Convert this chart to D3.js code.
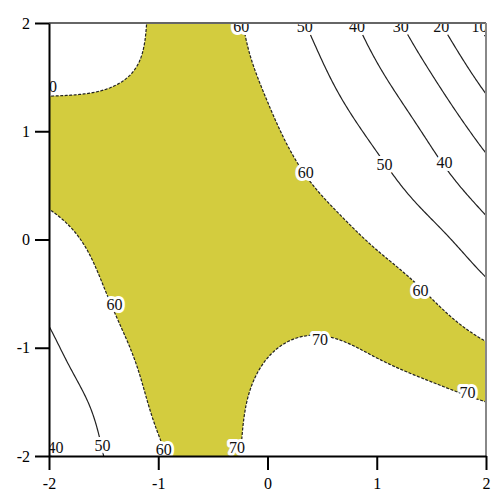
<!DOCTYPE html>
<html>
<head>
<meta charset="utf-8">
<script src="https://cdn.jsdelivr.net/npm/d3@7"></script>
<style>
  body { margin: 0; background: #fff; }
  svg { display: block; }
</style>
</head>
<body>
<svg width="494" height="495"></svg>
<script>
const xGrid = [-2, -1.5, -1, -0.5, 0, 0.5, 1, 1.5, 2];
const yGrid = [2, 1.5, 1, 0.5, 0, -0.5, -1, -1.5, -2];
const zRows = [
  [54.0, 56.5, 61.0, 63.0, 56.2, 47.0, 35.7, 22.5,  7.5],
  [58.5, 59.0, 61.5, 62.5, 59.0, 51.3, 41.7, 30.5, 17.0],
  [62.0, 63.0, 63.5, 63.0, 61.0, 55.5, 47.8, 38.0, 26.5],
  [61.5, 63.0, 63.5, 63.5, 62.5, 59.3, 53.5, 45.0, 35.0],
  [57.5, 61.5, 63.5, 64.5, 64.0, 62.8, 59.0, 53.0, 44.0],
  [52.8, 59.7, 64.0, 66.5, 67.0, 66.5, 64.0, 59.5, 52.5],
  [48.3, 56.5, 63.0, 66.5, 69.5, 71.0, 69.0, 65.5, 61.0],
  [44.5, 52.5, 61.5, 66.5, 72.0, 74.5, 74.0, 72.5, 70.0],
  [39.5, 50.0, 58.8, 66.3, 73.0, 76.0, 77.0, 77.5, 78.5]
];

const levels = [10, 20, 30, 40, 50, 60, 70];
const bandLow = 60, bandHigh = 70;   // the filled band

// contour labels as seen in the picture
const labelLevel = [60, 50, 40, 30, 20, 10, 60, 60, 50, 40, 60, 60, 70, 70, 40, 50, 60, 70];
const labelX = [-0.24, 0.34, 0.82, 1.22, 1.59, 1.94, -2.0, 0.35, 1.07, 1.62, -1.40, 1.40, 0.48, 1.83, -1.94, -1.51, -0.95, -0.28];
const labelY = [1.97, 1.97, 1.97, 1.97, 1.97, 1.97, 1.41, 0.62, 0.69, 0.71, -0.60, -0.47, -0.92, -1.41, -1.92, -1.90, -1.94, -1.92];

const tickValues = [-2, -1, 0, 1, 2];

const svg = d3.select("svg");
const plotLeft = 49, plotRight = 486, plotTop = 23, plotBottom = 456;

const x = d3.scaleLinear().domain([-2, 2]).range([plotLeft, plotRight]);
const y = d3.scaleLinear().domain([-2, 2]).range([plotBottom, plotTop]);

// natural cubic spline through equally spaced values, evaluated at fractional index t
function spline(vals) {
  const n = vals.length;
  const m2 = new Array(n).fill(0);          // second derivatives, zero at the ends
  const c = new Array(n).fill(0), d = new Array(n).fill(0);
  for (let i = 1; i < n - 1; i++) {
    const rhs = 6 * (vals[i + 1] - 2 * vals[i] + vals[i - 1]);
    const denom = 4 - c[i - 1];
    c[i] = 1 / denom;
    d[i] = (rhs - d[i - 1]) / denom;
  }
  for (let i = n - 2; i >= 1; i--) m2[i] = d[i] - c[i] * m2[i + 1];
  return t => {
    const i = Math.max(0, Math.min(n - 2, Math.floor(t)));
    const u = t - i, w = 1 - u;
    return w * vals[i] + u * vals[i + 1] + ((w * w * w - w) * m2[i] + (u * u * u - u) * m2[i + 1]) / 6;
  };
}

const N = 201;
const step = 4 / (N - 1);
const nx = xGrid.length, ny = yGrid.length;

// along x first, row by row, then along y for every fine column
const rowSplines = zRows.map(spline);
const fineRows = rowSplines.map(s => d3.range(N).map(i => s(i * (nx - 1) / (N - 1))));
const values = new Array(N * N);
for (let i = 0; i < N; i++) {
  const s = spline(fineRows.map(r => r[i]));
  for (let j = 0; j < N; j++) values[j * N + i] = s(j * (ny - 1) / (N - 1));
}

const projection = d3.geoTransform({
  point: function(px, py) {
    this.stream.point(x(-2 + (px - 0.5) * step), y(2 - (py - 0.5) * step));
  }
});
const path = d3.geoPath(projection);

const contours = d3.contours().size([N, N]).thresholds(levels)(values);
const byLevel = {};
contours.forEach(c => byLevel[c.value] = c);

svg.append("clipPath").attr("id", "plot")
  .append("rect")
    .attr("x", plotLeft).attr("y", plotTop)
    .attr("width", plotRight - plotLeft).attr("height", plotBottom - plotTop);

const g = svg.append("g").attr("clip-path", "url(#plot)");

// band 60-70 in yellow, everything above 70 back to white
g.append("path").attr("d", path(byLevel[bandLow])).attr("fill", "#d3cc3e");
g.append("path").attr("d", path(byLevel[bandHigh])).attr("fill", "#fff");

g.selectAll("path.line")
  .data(contours)
  .enter()
  .append("path")
    .attr("class", "line")
    .attr("d", path)
    .attr("fill", "none")
    .attr("stroke", "#222")
    .attr("stroke-width", 1.2)
    .attr("stroke-dasharray", d => d.value >= bandLow ? "3,1.5" : null);

// labels with a white knock-out round them
const labels = labelLevel.map((v, i) => ({ v, lx: labelX[i], ly: labelY[i] }));
g.selectAll("text.clab")
  .data(labels)
  .enter()
  .append("text")
    .attr("class", "clab")
    .attr("x", d => x(d.lx))
    .attr("y", d => y(d.ly))
    .attr("dy", "0.35em")
    .attr("text-anchor", "middle")
    .attr("font-family", "Liberation Serif, serif")
    .attr("font-size", "16px")
    .attr("fill", "#111")
    .attr("stroke", "#fff")
    .attr("stroke-width", 6)
    .attr("stroke-linejoin", "round")
    .attr("paint-order", "stroke")
    .text(d => d.v);

// frame on top and right
svg.append("line").attr("x1", plotLeft).attr("x2", plotRight).attr("y1", plotTop).attr("y2", plotTop)
  .attr("stroke", "#666").attr("stroke-width", 2);
svg.append("line").attr("x1", plotRight).attr("x2", plotRight).attr("y1", plotTop).attr("y2", plotBottom)
  .attr("stroke", "#888").attr("stroke-width", 2);

const fmt = d => d < 0 ? "-" + Math.abs(d) : String(d);

const xAxis = svg.append("g")
  .attr("transform", `translate(0,${plotBottom})`)
  .call(d3.axisBottom(x).tickValues(tickValues).tickFormat(fmt).tickSize(14).tickSizeOuter(0).tickPadding(8));
const yAxis = svg.append("g")
  .attr("transform", `translate(${plotLeft},0)`)
  .call(d3.axisLeft(y).tickValues(tickValues).tickFormat(fmt).tickSize(14).tickSizeOuter(0).tickPadding(5));

[xAxis, yAxis].forEach(a => {
  a.select(".domain").attr("stroke", "#000").attr("stroke-width", 2);
  a.selectAll(".tick line").attr("stroke", "#000").attr("stroke-width", 2);
  a.selectAll(".tick text")
    .attr("font-family", "Liberation Serif, serif")
    .attr("font-size", "16px")
    .attr("fill", "#000");
});
</script>
</body>
</html>
